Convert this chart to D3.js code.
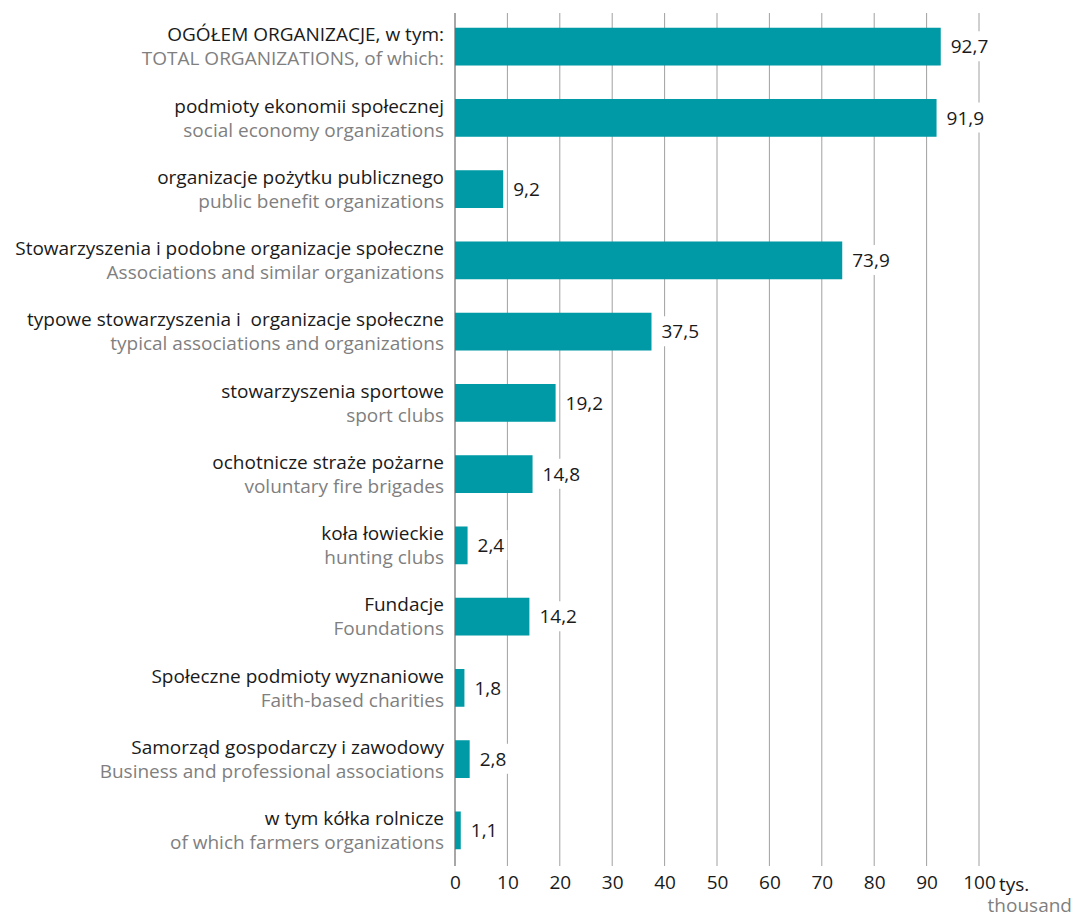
<!DOCTYPE html>
<html>
<head>
<meta charset="utf-8">
<script src="https://cdn.jsdelivr.net/npm/d3@7"></script>
<style>
  body { margin: 0; background: #fff; }
  text { font-family: "Open Sans", Lato, sans-serif; white-space: pre; }
</style>
</head>
<body>
<div id="chart"></div>
<script>
const labelsPl = [
    "OGÓŁEM ORGANIZACJE, w tym:",
    "podmioty ekonomii społecznej",
    "organizacje pożytku publicznego",
    "Stowarzyszenia i podobne organizacje społeczne",
    "typowe stowarzyszenia i  organizacje społeczne",
    "stowarzyszenia sportowe",
    "ochotnicze straże pożarne",
    "koła łowieckie",
    "Fundacje",
    "Społeczne podmioty wyznaniowe",
    "Samorząd gospodarczy i zawodowy",
    "w tym kółka rolnicze"
];
const labelsEn = [
    "TOTAL ORGANIZATIONS, of which:",
    "social economy organizations",
    "public benefit organizations",
    "Associations and similar organizations",
    "typical associations and organizations",
    "sport clubs",
    "voluntary fire brigades",
    "hunting clubs",
    "Foundations",
    "Faith-based charities",
    "Business and professional associations",
    "of which farmers organizations"
];
const values = [92.7, 91.9, 9.2, 73.9, 37.5, 19.2, 14.8, 2.4, 14.2, 1.8, 2.8, 1.1];
const ticks = [0, 10, 20, 30, 40, 50, 60, 70, 80, 90, 100];

const width = 1077, height = 918;
const fontSize = 19;
const svg = d3.select("#chart").append("svg")
    .attr("width", width)
    .attr("height", height);

const x = d3.scaleLinear().domain([0, 100]).range([455, 979]);
const y = d3.scaleBand().domain(d3.range(values.length)).range([11, 866]).paddingInner(0.47).paddingOuter(0.235);

const fmt = v => d3.format(".1f")(v).replace(".", ",");

// grid
svg.append("g").selectAll("line")
    .data(ticks)
    .join("line")
    .attr("x1", d => x(d)).attr("x2", d => x(d))
    .attr("y1", 13).attr("y2", 866)
    .attr("stroke", d => d === 0 ? "#8a8a8a" : "#a0a0a0")
    .attr("stroke-width", d => d === 0 ? 1.5 : 1);

// bars
svg.append("g").selectAll("rect")
    .data(values)
    .join("rect")
    .attr("x", x(0))
    .attr("y", (d, i) => y(i))
    .attr("width", d => x(d) - x(0))
    .attr("height", y.bandwidth())
    .attr("fill", "#009aa6");

// value labels with white backing
const vl = svg.append("g").selectAll("g")
    .data(values)
    .join("g")
    .attr("transform", (d, i) => `translate(${x(d) + 10},${y(i) + y.bandwidth() / 2})`);
vl.append("text")
    .attr("dy", "0.35em")
    .attr("font-size", fontSize)
    .attr("fill", "#1a1a1a")
    .text(fmt)
    .each(function() {
        const b = this.getBBox();
        d3.select(this.parentNode).insert("rect", "text")
            .attr("x", b.x - 3).attr("y", b.y - 2)
            .attr("width", b.width + 6).attr("height", b.height + 4)
            .attr("fill", "#fff");
    });

// category labels
const cl = svg.append("g").selectAll("g")
    .data(labelsPl)
    .join("g")
    .attr("transform", (d, i) => `translate(444,${y(i) + y.bandwidth() / 2})`);
cl.append("text")
    .attr("text-anchor", "end")
    .attr("y", -12).attr("dy", "0.35em")
    .attr("font-size", fontSize)
    .attr("fill", "#1a1a1a")
    .text(d => d);
cl.append("text")
    .attr("text-anchor", "end")
    .attr("y", 12).attr("dy", "0.35em")
    .attr("font-size", fontSize)
    .attr("fill", "#7f7f7f")
    .text((d, i) => labelsEn[i]);

// axis
const axis = d3.axisBottom(x).tickValues(ticks).tickSize(0).tickPadding(0)
    .tickFormat(d => d);
const ax = svg.append("g").attr("transform", "translate(0,875)").call(axis);
ax.select(".domain").remove();
ax.selectAll("text")
    .attr("font-size", fontSize)
    .attr("fill", "#1a1a1a")
    .attr("font-family", "'Open Sans', Lato, sans-serif");

svg.append("text")
    .attr("x", x(100) + 20).attr("y", 891)
    .attr("font-size", fontSize).attr("fill", "#1a1a1a")
    .text("tys.");
svg.append("text")
    .attr("x", 1072).attr("y", 912)
    .attr("text-anchor", "end")
    .attr("font-size", fontSize).attr("fill", "#7f7f7f")
    .text("thousand");
</script>
</body>
</html>
